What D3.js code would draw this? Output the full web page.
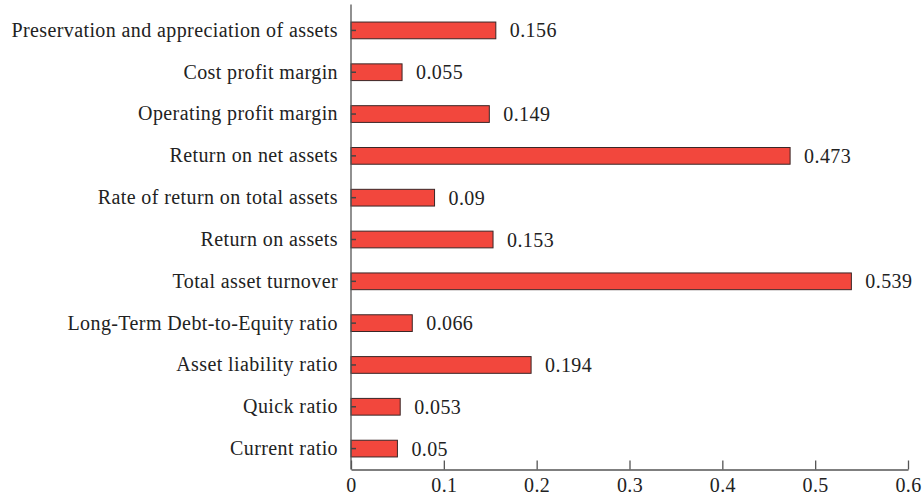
<!DOCTYPE html>
<html><head><meta charset="utf-8">
<script src="https://cdn.jsdelivr.net/npm/d3@7"></script>
<style>body{margin:0;background:#fff}svg{display:block}</style>
</head><body>
<script>
const categories = ["Preservation and appreciation of assets","Cost profit margin","Operating profit margin","Return on net assets","Rate of return on total assets","Return on assets","Total asset turnover","Long-Term Debt-to-Equity ratio","Asset liability ratio","Quick ratio","Current ratio"];
const values = [0.156,0.055,0.149,0.473,0.09,0.153,0.539,0.066,0.194,0.053,0.05];
const valueLabels = ["0.156","0.055","0.149","0.473","0.09","0.153","0.539","0.066","0.194","0.053","0.05"];
const xTicks = [0,0.1,0.2,0.3,0.4,0.5,0.6];

const W=922,H=498;
const mLeft=351, mRight=908, mTop=9.5, mBottom=469.5;
const font = "'Liberation Serif', 'Times New Roman', serif";
const fs = 20;
const svg = d3.select("body").append("svg").attr("width",W).attr("height",H);
const x = d3.scaleLinear().domain([0,0.6]).range([mLeft,mRight]);
const y = d3.scaleBand().domain(categories).range([mTop,mBottom]).paddingInner(0.6).paddingOuter(0.3);

svg.append("g").selectAll("rect").data(values).join("rect")
  .attr("x",x(0)).attr("y",(d,i)=>y(categories[i]))
  .attr("width",d=>x(d)-x(0)).attr("height",y.bandwidth())
  .attr("fill","#f2473d").attr("stroke","#3a2626").attr("stroke-width",1);

svg.append("g").selectAll("text").data(values).join("text")
  .attr("x",d=>x(d)+14).attr("y",(d,i)=>y(categories[i])+y.bandwidth()/2)
  .attr("dy","0.35em").attr("font-family",font).attr("font-size",fs).attr("fill","#222")
  .attr("letter-spacing","0.4px")
  .text((d,i)=>valueLabels[i]);

const ya = svg.append("g").attr("transform",`translate(${mLeft},0)`)
  .call(d3.axisLeft(y).tickSizeInner(-5).tickSizeOuter(0).tickPadding(13));
ya.select(".domain").attr("stroke","#555").attr("stroke-width",1.3).attr("d",`M0,${mTop-5}V${mBottom}`);
ya.selectAll(".tick line").attr("stroke","#444").attr("stroke-width",1.5);
ya.selectAll("text").attr("font-family",font).attr("font-size",fs).attr("fill","#222").attr("letter-spacing","0.4px");

const xa = svg.append("g").attr("transform",`translate(0,${mBottom})`)
  .call(d3.axisBottom(x).tickValues(xTicks).tickFormat(d=>d===0?"0":d3.format(".1f")(d)).tickSizeInner(-9).tickSizeOuter(0));
xa.select(".domain").attr("stroke","#555").attr("stroke-width",1.3);
xa.selectAll(".tick line").attr("stroke","#555").attr("stroke-width",1.3);
xa.selectAll("text").attr("y",22.5).attr("dy",0).attr("font-family",font).attr("font-size",fs).attr("fill","#222").attr("letter-spacing","0.4px");
</script>
</body></html>
